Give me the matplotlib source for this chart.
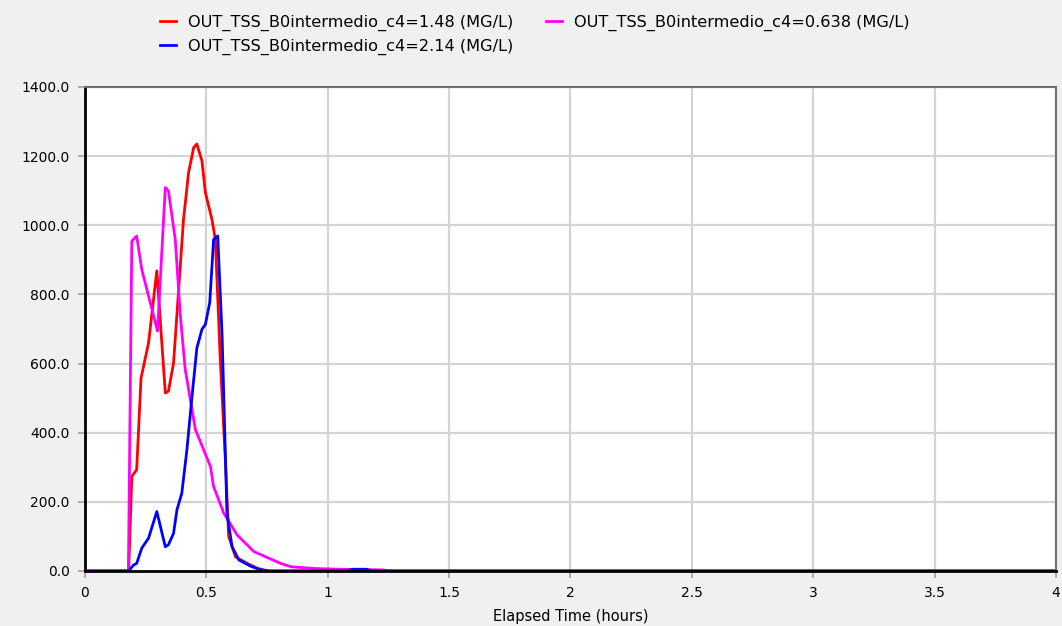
import matplotlib.pyplot as plt
from matplotlib.ticker import FuncFormatter

# series (time in hours, TSS in MG/L)
t_red = [0, 0.18, 0.193, 0.213, 0.231, 0.262, 0.296, 0.331, 0.344, 0.365, 0.406, 0.427,
         0.448, 0.461, 0.482, 0.496, 0.523, 0.537, 0.558, 0.579, 0.592, 0.62, 0.668,
         0.71, 0.75, 4.0]
v_red = [0, 0, 273, 293, 558, 660, 868, 515, 520, 602, 1017, 1153,
         1225, 1235, 1186, 1095, 1017, 959, 602, 313, 100, 41, 22,
         8, 0, 0]

t_mag = [0, 0.179, 0.193, 0.213, 0.234, 0.269, 0.299, 0.331, 0.344, 0.372, 0.393, 0.413,
         0.455, 0.517, 0.530, 0.572, 0.627, 0.696, 0.806, 0.85, 0.95, 1.05, 1.15, 1.23,
         1.25, 4.0]
v_mag = [0, 0, 954, 969, 872, 776, 694, 1109, 1099, 959, 737, 583,
         409, 302, 244, 167, 104, 56, 22, 12, 7, 5, 4, 3,
         0, 0]

t_blue = [0, 0.18, 0.2, 0.213, 0.234, 0.262, 0.296, 0.331, 0.344, 0.365, 0.379, 0.399,
          0.420, 0.441, 0.461, 0.482, 0.496, 0.514, 0.530, 0.547, 0.565, 0.585, 0.606,
          0.634, 0.682, 0.72, 0.76, 1.08, 1.1, 1.16, 1.18, 4.0]
v_blue = [0, 0, 17, 22, 66, 95, 172, 70, 76, 109, 177, 225,
          351, 505, 645, 699, 713, 776, 959, 969, 679, 167, 70,
          32, 14, 4, 0, 0, 5, 5, 0, 0]

labels = ["OUT_TSS_B0intermedio_c4=1.48 (MG/L)",
          "OUT_TSS_B0intermedio_c4=2.14 (MG/L)",
          "OUT_TSS_B0intermedio_c4=0.638 (MG/L)"]

plt.rcParams['font.family'] = ['DejaVu Sans']

fig = plt.figure(figsize=(10.62, 6.26), dpi=100, facecolor="#f0f0f0")
ax = fig.add_axes([0.0800, 0.0879, 0.9143, 0.7732])
ax.set_facecolor("white")

l_red, = ax.plot(t_red, v_red, color="#ff0000", lw=2.0, label=labels[0])
l_mag, = ax.plot(t_mag, v_mag, color="#ff00ff", lw=2.0, label=labels[2])
l_blue, = ax.plot(t_blue, v_blue, color="#0000ff", lw=2.0, label=labels[1])

ax.set_xlim(0, 4)
ax.set_ylim(0, 1400)
ax.set_xticks([0, 0.5, 1, 1.5, 2, 2.5, 3, 3.5, 4])
ax.set_yticks(range(0, 1401, 200))
ax.xaxis.set_major_formatter(FuncFormatter(lambda v, p: "%g" % v))
ax.yaxis.set_major_formatter(FuncFormatter(lambda v, p: "%.1f" % v))
ax.grid(True, color="#d4d4d4", lw=1.6)
ax.set_axisbelow(True)
ax.tick_params(labelsize=10, length=5, width=1.2, color="#a0a0a0")
ax.tick_params(axis="y", pad=6)
ax.tick_params(axis="x", pad=6)

for s in ["top", "right"]:
    ax.spines[s].set_color("#707070")
    ax.spines[s].set_linewidth(1.5)
for s in ["left", "bottom"]:
    ax.spines[s].set_color("black")
    ax.spines[s].set_linewidth(2)

ax.set_xlabel("Elapsed Time (hours)", fontsize=10.5, labelpad=6)

fig.legend([l_red, l_blue, l_mag], [labels[0], labels[1], labels[2]],
           ncol=2, loc="upper left", bbox_to_anchor=(0.1507, 0.976),
           frameon=False, fontsize=11.6, handlelength=1.0, handletextpad=0.75,
           columnspacing=2.0, labelspacing=0.45, borderpad=0, borderaxespad=0)

fig.savefig("out.png", dpi=100, facecolor=fig.get_facecolor())
